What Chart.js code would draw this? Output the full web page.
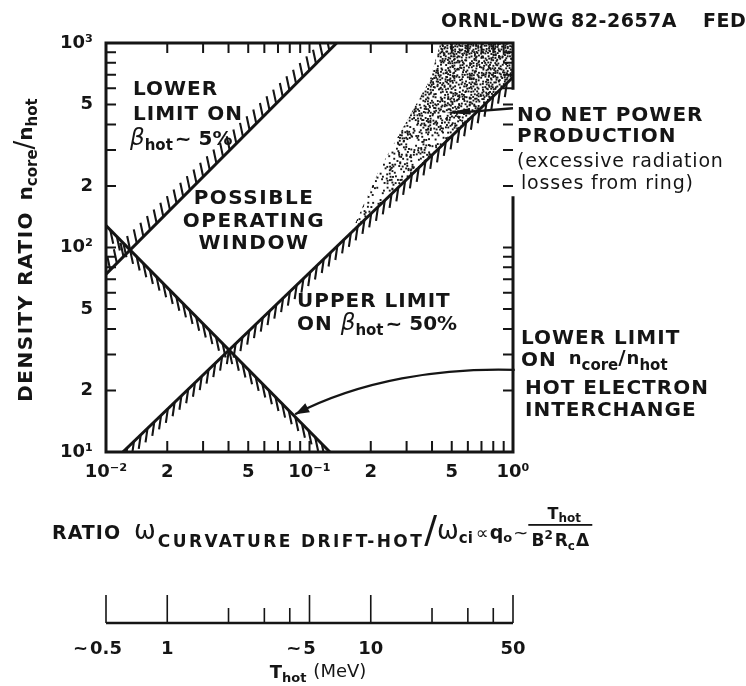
<!DOCTYPE html>
<html>
<head>
<meta charset="utf-8">
<script src="https://cdn.jsdelivr.net/npm/chart.js@4.4.1/dist/chart.umd.min.js"></script>
<style>
html, body { margin: 0; padding: 0; background: #fff; }
</style>
</head>
<body>
<canvas id="chart" width="746" height="686"></canvas>
<script>
const INK = '#151515'
const FONT = '"DejaVu Sans", "Liberation Sans", sans-serif'

// ---- axes ----
const xTickVals = [0.01, 0.02, 0.03, 0.04, 0.05, 0.06, 0.07, 0.08, 0.09, 0.1, 0.2, 0.3, 0.4, 0.5, 0.6, 0.7, 0.8, 0.9, 1]
const xLabelVals = [0.01, 0.02, 0.05, 0.1, 0.2, 0.5, 1]
const xLabelText = ['10⁻²', '2', '5', '10⁻¹', '2', '5', '10⁰']

const yTickVals = [10, 20, 30, 40, 50, 60, 70, 80, 90, 100, 200, 300, 400, 500, 600, 700, 800, 900, 1000]
const yLabelVals = [10, 20, 50, 100, 200, 500, 1000]
const yLabelText = ['10¹', '2', '5', '10²', '2', '5', '10³']

// ---- limit lines (ratio, n_core/n_hot) ----
const betaLowX = [0.01, 0.136]          // lower limit on beta_hot ~ 5%
const betaLowY = [74, 1000]
const interchangeX = [0.01, 0.126]      // hot electron interchange
const interchangeY = [128, 10]
const betaHighX = [0.0121, 1]           // upper limit on beta_hot ~ 50%
const betaHighY = [10, 680]

// no net power region (excessive radiation)
const radiationX = [0.16, 1, 1, 0.44, 0.39, 0.22]
const radiationY = [118, 680, 1000, 1000, 660, 240]

// pointer arrows
const powerArrowX = [1.0, 0.47]
const powerArrowY = [480, 455]
const interchangeArrowX = [1.02, 0.44, 0.18, 0.085]
const interchangeArrowY = [25.2, 25.8, 22.5, 15.3]

// T_hot scale under the ratio axis (T_hot = 50 MeV at ratio 1)
const T_AT_UNIT_RATIO = 50
const tTickVals = [0.5, 1, 2, 3, 4, 5, 10, 20, 30, 40, 50]
const tMajorVals = [0.5, 1, 5, 10, 50]
const tLabelText = ['0.5', '1', '5', '10', '50']
const tLabelPrefix = ['~', '', '~', '', '']

function labelFor(v, vals, texts) {
  const i = vals.findIndex(e => Math.abs(e - v) / e < 1e-6)
  return i < 0 ? '' : texts[i]
}

function font(p) {
  return `${p.style || ''} ${p.weight || 'bold'} ${p.size || 20}px ${FONT}`.trim()
}

// draws a run of text pieces (subscripts etc.), returns the end x
function drawRich(ctx, x, y, parts, align) {
  let w = 0
  parts.forEach(p => {
    ctx.font = font(p)
    ctx.letterSpacing = (p.ls || 0) + 'px'
    p._w = ctx.measureText(p.t).width
    w += p._w + (p.gap || 0)
  })
  let cx = align === 'center' ? x - w / 2 : align === 'right' ? x - w : x
  ctx.textAlign = 'left'
  ctx.textBaseline = 'alphabetic'
  ctx.fillStyle = INK
  parts.forEach(p => {
    ctx.font = font(p)
    ctx.letterSpacing = (p.ls || 0) + 'px'
    ctx.fillText(p.t, cx, y + (p.dy || 0))
    cx += p._w + (p.gap || 0)
  })
  ctx.letterSpacing = '0px'
  return cx
}

function pts(xs, ys) {
  return xs.map((x, i) => ({ x, y: ys[i] }))
}

function hash(i, j) {
  let h = (i * 374761393 + j * 668265263) | 0
  h = Math.imul(h ^ (h >>> 13), 1274126177)
  return ((h ^ (h >>> 16)) >>> 0) / 4294967296
}

function drawStipple(chart) {
  const { ctx, chartArea: a, scales: { x, y } } = chart
  const px = radiationX.map(v => x.getPixelForValue(v))
  const py = radiationY.map(v => y.getPixelForValue(v))
  const low = Math.max(...py)
  ctx.save()
  ctx.beginPath()
  px.forEach((v, i) => i ? ctx.lineTo(v, py[i]) : ctx.moveTo(v, py[i]))
  ctx.closePath()
  ctx.clip()
  ctx.fillStyle = INK
  const step = 2.4
  for (let j = 0; a.top + j * step < low; j++) {
    for (let i = 0; a.left + i * step < a.right; i++) {
      const gx = a.left + i * step, gy = a.top + j * step
      const t = (low - gy) / (low - a.top)
      const k = (gx - a.left) / (a.right - a.left)
      const p = 0.2 + 0.4 * t + 0.3 * t * k
      if (hash(i, j) < p) {
        const jx = (hash(j + 7, i + 3) - 0.5) * 2
        const jy = (hash(i + 11, j + 5) - 0.5) * 2
        ctx.fillRect(gx + jx, gy + jy, 1.9, 1.9)
      }
    }
  }
  ctx.restore()
}

function hatch(ctx, x, y, xs, ys, off) {
  const x0 = x.getPixelForValue(xs[0]), y0 = y.getPixelForValue(ys[0])
  const x1 = x.getPixelForValue(xs[1]), y1 = y.getPixelForValue(ys[1])
  const len = Math.hypot(x1 - x0, y1 - y0)
  const ux = (x1 - x0) / len, uy = (y1 - y0) / len
  for (let s = 6; s < len - 2; s += 9.4) {
    const hx = x0 + ux * s, hy = y0 + uy * s
    ctx.moveTo(hx, hy)
    ctx.lineTo(hx + off[0], hy + off[1])
  }
}

function arrowHead(ctx, tx, ty, fx, fy, len, half) {
  const d = Math.hypot(tx - fx, ty - fy)
  const ux = (tx - fx) / d, uy = (ty - fy) / d
  ctx.beginPath()
  ctx.moveTo(tx, ty)
  ctx.lineTo(tx - ux * len - uy * half, ty - uy * len + ux * half)
  ctx.lineTo(tx - ux * len + uy * half, ty - uy * len - ux * half)
  ctx.closePath()
  ctx.fill()
}

const figure = {
  id: 'figure',
  beforeDatasetsDraw(chart) {
    drawStipple(chart)
  },
  afterDatasetsDraw(chart) {
    const { ctx, chartArea: a, scales: { x, y } } = chart
    ctx.save()
    ctx.beginPath()
    ctx.rect(a.left, a.top, a.right - a.left, a.bottom - a.top)
    ctx.clip()

    // hatching on the forbidden side of each limit
    ctx.strokeStyle = INK
    ctx.lineWidth = 2.1
    ctx.beginPath()
    hatch(ctx, x, y, betaLowX, betaLowY, [-3, -14])
    hatch(ctx, x, y, interchangeX, interchangeY, [3, 14])
    hatch(ctx, x, y, betaHighX, betaHighY, [-2, 14])
    ctx.stroke()
    ctx.restore()

    // frame
    ctx.save()
    ctx.strokeStyle = INK
    ctx.lineWidth = 3
    ctx.lineCap = 'square'
    ctx.beginPath()
    ctx.moveTo(a.right, y.getPixelForValue(600))
    ctx.lineTo(a.right, a.top)
    ctx.lineTo(a.left, a.top)
    ctx.lineTo(a.left, a.bottom)
    ctx.lineTo(a.right, a.bottom)
    ctx.lineTo(a.right, y.getPixelForValue(175))
    ctx.stroke()

    // inward tick marks
    ctx.lineWidth = 2
    ctx.lineCap = 'butt'
    ctx.beginPath()
    xTickVals.slice(1, -1).forEach(v => {
      const px = x.getPixelForValue(v)
      ctx.moveTo(px, a.top); ctx.lineTo(px, a.top + 10)
      ctx.moveTo(px, a.bottom); ctx.lineTo(px, a.bottom - 11)
    })
    yTickVals.slice(1, -1).forEach(v => {
      const py = y.getPixelForValue(v)
      ctx.moveTo(a.left, py); ctx.lineTo(a.left + 10, py)
      ctx.moveTo(a.right, py); ctx.lineTo(a.right - 10, py)
    })
    ctx.stroke()

    // arrows to the labels
    ctx.fillStyle = INK
    ctx.lineWidth = 2.4
    const ax = powerArrowX.map(v => x.getPixelForValue(v))
    const ay = powerArrowY.map(v => y.getPixelForValue(v))
    ctx.beginPath()
    ctx.moveTo(ax[0], ay[0])
    ctx.lineTo(ax[1] + 16, ay[1] - 0.6)
    ctx.stroke()
    arrowHead(ctx, ax[1], ay[1], ax[0], ay[0], 24, 3.2)

    const cx = interchangeArrowX.map(v => x.getPixelForValue(v))
    const cy = interchangeArrowY.map(v => y.getPixelForValue(v))
    ctx.lineWidth = 2.2
    ctx.beginPath()
    ctx.moveTo(cx[0], cy[0])
    ctx.bezierCurveTo(cx[1], cy[1], cx[2], cy[2], cx[3], cy[3])
    ctx.stroke()
    arrowHead(ctx, cx[3], cy[3], cx[2], cy[2], 14, 5)

    // region notes
    drawRich(ctx, 133, 95, [{ t: 'LOWER', ls: 1 }])
    drawRich(ctx, 133, 120, [{ t: 'LIMIT ON', ls: 1 }])
    drawRich(ctx, 130, 145, [{ t: 'β', size: 23, style: 'italic', weight: 'normal' }, { t: 'hot', size: 15, dy: 5, gap: 2 }, { t: '~ 5%', size: 20 }])

    drawRich(ctx, 254, 204, [{ t: 'POSSIBLE', ls: 1.5 }], 'center')
    drawRich(ctx, 254, 227, [{ t: 'OPERATING', ls: 1.5 }], 'center')
    drawRich(ctx, 254, 249, [{ t: 'WINDOW', ls: 1.5 }], 'center')

    drawRich(ctx, 297, 307, [{ t: 'UPPER LIMIT', ls: 1 }])
    drawRich(ctx, 297, 330, [{ t: 'ON ', ls: 1 }, { t: 'β', size: 23, style: 'italic', weight: 'normal' }, { t: 'hot', size: 15, dy: 5, gap: 2 }, { t: '~ 50%', size: 20 }])
    ctx.restore()
  },
  afterDraw(chart) {
    const { ctx, scales: { x } } = chart
    ctx.save()

    drawRich(ctx, 441, 27, [{ t: 'ORNL-DWG 82-2657A', size: 19, ls: 0.5 }])
    drawRich(ctx, 703, 27, [{ t: 'FED', size: 19, ls: 0.5 }])

    // notes to the right of the frame
    drawRich(ctx, 517, 121, [{ t: 'NO NET POWER', ls: 1 }])
    drawRich(ctx, 517, 142, [{ t: 'PRODUCTION', ls: 1 }])
    drawRich(ctx, 517, 167, [{ t: '(excessive radiation', size: 19, weight: 'normal', ls: 0.8 }])
    drawRich(ctx, 521, 189, [{ t: 'losses from ring)', size: 19, weight: 'normal', ls: 0.8 }])

    drawRich(ctx, 521, 344, [{ t: 'LOWER LIMIT', ls: 1 }])
    drawRich(ctx, 521, 366, [{ t: 'ON ', ls: 1, gap: 4 }, { t: 'n', size: 18, dy: -2 }, { t: 'core', size: 15, dy: 4 }, { t: '/', size: 20, dy: -2, gap: 1 }, { t: 'n', size: 18, dy: -2 }, { t: 'hot', size: 15, dy: 4 }])
    drawRich(ctx, 525, 394, [{ t: 'HOT ELECTRON', ls: 1 }])
    drawRich(ctx, 525, 416, [{ t: 'INTERCHANGE', ls: 1 }])

    // y title
    ctx.save()
    ctx.translate(24, 250)
    ctx.rotate(-Math.PI / 2)
    drawRich(ctx, 0, 8, [{ t: 'DENSITY RATIO ', size: 20, ls: 1.5, gap: 2 }, { t: 'n', size: 20 }, { t: 'core', size: 15, dy: 5 }, { t: '/', size: 26, weight: 'normal', dy: 1 }, { t: 'n', size: 20 }, { t: 'hot', size: 15, dy: 5 }], 'center')
    ctx.restore()

    // x title with the scaling relation
    let end = drawRich(ctx, 52, 539, [
      { t: 'RATIO', size: 19, ls: 1, gap: 13 },
      { t: 'ω', size: 26, weight: 'normal', gap: 2 },
      { t: 'CURVATURE DRIFT-HOT', size: 17, dy: 8, ls: 2.4 },
      { t: '/', size: 38, weight: 'normal', dy: 3 },
      { t: 'ω', size: 26, weight: 'normal' },
      { t: 'ci', size: 15, dy: 4, gap: 3 },
      { t: '∝', size: 18, weight: 'normal', gap: 1 },
      { t: 'q', size: 19 },
      { t: 'o', size: 13, dy: 3, gap: 1 },
      { t: '~', size: 18, weight: 'normal' }
    ])
    const fw = 64
    ctx.fillStyle = INK
    ctx.fillRect(end, 524, fw, 1.8)
    drawRich(ctx, end + fw / 2 + 4, 519, [{ t: 'T', size: 16 }, { t: 'hot', size: 12, dy: 3 }], 'center')
    drawRich(ctx, end + fw / 2, 546, [{ t: 'B', size: 17 }, { t: '2', size: 12, dy: -7, gap: 2 }, { t: 'R', size: 17 }, { t: 'c', size: 12, dy: 4, gap: 1 }, { t: 'Δ', size: 17 }], 'center')

    // T_hot scale
    const tx = v => x.getPixelForValue(v / T_AT_UNIT_RATIO)
    const base = 623
    ctx.strokeStyle = INK
    ctx.lineWidth = 2.6
    ctx.beginPath()
    ctx.moveTo(tx(tTickVals[0]), base)
    ctx.lineTo(tx(tTickVals[tTickVals.length - 1]), base)
    ctx.stroke()
    ctx.lineWidth = 1.6
    ctx.beginPath()
    tTickVals.forEach(v => {
      const major = tMajorVals.includes(v)
      ctx.moveTo(tx(v), base)
      ctx.lineTo(tx(v), base - (major ? 28 : 15))
    })
    ctx.stroke()
    tMajorVals.forEach((v, i) => {
      const p = tx(v)
      const end = drawRich(ctx, p, 654, [{ t: tLabelText[i], size: 18 }], 'center')
      if (tLabelPrefix[i]) {
        drawRich(ctx, p - (end - p) - 2, 654, [{ t: tLabelPrefix[i], size: 18 }], 'right')
      }
    })
    drawRich(ctx, 318, 678, [{ t: 'T', size: 18 }, { t: 'hot', size: 13, dy: 4, gap: 7 }, { t: '(MeV)', size: 18, weight: 'normal', dy: -1 }], 'center')

    ctx.restore()
  }
}

const lineStyle = { showLine: true, borderColor: INK, borderWidth: 3, pointRadius: 0, fill: false }

new Chart(document.getElementById('chart'), {
  type: 'scatter',
  data: {
    datasets: [
      { label: 'lower limit on beta_hot ~ 5%', data: pts(betaLowX, betaLowY), ...lineStyle },
      { label: 'hot electron interchange', data: pts(interchangeX, interchangeY), ...lineStyle },
      { label: 'upper limit on beta_hot ~ 50%', data: pts(betaHighX, betaHighY), ...lineStyle }
    ]
  },
  options: {
    responsive: false,
    animation: false,
    events: [],
    layout: { padding: { top: 43, right: 233, bottom: 194, left: 0 } },
    plugins: { legend: { display: false }, tooltip: { enabled: false } },
    scales: {
      x: {
        type: 'logarithmic',
        min: 0.01,
        max: 1,
        grid: { display: false, drawTicks: false },
        border: { display: false },
        afterBuildTicks: s => { s.ticks = xTickVals.map(v => ({ value: v })) },
        afterFit: s => { s.height = 40 },
        ticks: {
          autoSkip: false,
          maxRotation: 0,
          padding: 10,
          color: INK,
          font: { family: FONT, size: 18, weight: 'bold' },
          callback: v => labelFor(v, xLabelVals, xLabelText)
        }
      },
      y: {
        type: 'logarithmic',
        min: 10,
        max: 1000,
        grid: { display: false, drawTicks: false },
        border: { display: false },
        afterBuildTicks: s => { s.ticks = yTickVals.map(v => ({ value: v })) },
        afterFit: s => { s.width = 106 },
        ticks: {
          autoSkip: false,
          padding: 13,
          color: INK,
          font: { family: FONT, size: 18, weight: 'bold' },
          callback: v => labelFor(v, yLabelVals, yLabelText)
        }
      }
    }
  },
  plugins: [figure]
})
</script>
</body>
</html>
